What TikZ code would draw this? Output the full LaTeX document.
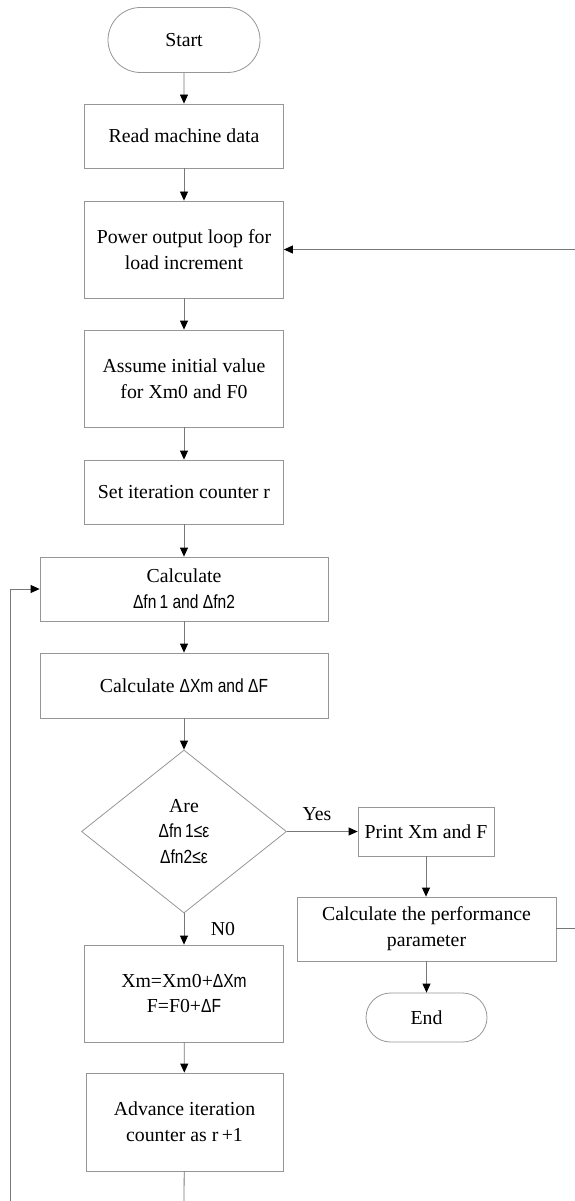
\documentclass[tikz,border=0pt]{standalone}
\usepackage{fontspec}
\setmainfont{Liberation Serif}
\newfontfamily\arf[FakeStretch=0.82]{Liberation Sans}
\newcommand{\sns}[1]{{\arf\fontsize{19}{25.8}\selectfont #1}}
\usetikzlibrary{shapes.geometric,shapes.misc,arrows.meta}
\definecolor{lnc}{RGB}{120,120,120}
\definecolor{bdc}{RGB}{150,150,150}
\begin{document}
\begin{tikzpicture}[x=1pt,y=-1pt,
  every node/.style={font=\fontsize{19.8}{25.8}\selectfont, align=center, inner sep=0pt},
  proc/.style={draw=bdc, line width=0.8pt, rectangle},
  term/.style={draw=bdc, line width=0.8pt, rounded rectangle},
  dec/.style={draw=bdc, line width=0.8pt, diamond},
  conn/.style={draw=lnc, line width=0.8pt},
  arr/.style={conn, -{Triangle[length=9pt,width=8pt,color=black]}},
  lbl/.style={font=\fontsize{19.8}{22}\selectfont}]
\useasboundingbox (0,0) rectangle (575,1201);
\node[term, minimum width=152pt, minimum height=65pt] (start) at (184,40) {Start};
\node[proc, minimum width=199pt, minimum height=64pt] (read) at (184,136) {Read machine data};
\node[proc, minimum width=199pt, minimum height=97pt] (power) at (184,249.5) {Power output loop for\\load increment};
\node[proc, minimum width=199pt, minimum height=97pt] (assume) at (184,378.5) {Assume initial value\\for Xm0 and F0};
\node[proc, minimum width=199pt, minimum height=64pt] (set) at (184,492) {Set iteration counter r};
\node[proc, minimum width=288pt, minimum height=64pt] (cfn) at (184,589) {Calculate\\\sns{Δfn\,1 and Δfn2}};
\node[proc, minimum width=288pt, minimum height=65pt] (cxm) at (184,685.5) {Calculate \sns{ΔXm and ΔF}};
\node[dec, minimum width=205pt, minimum height=163pt] (are) at (184,831.5) {Are\\\sns{Δfn\,1≤ε}\\\sns{Δfn2≤ε}};
\node[proc, minimum width=136pt, minimum height=49pt] (print) at (426,831.5) {Print Xm and F};
\node[proc, minimum width=259pt, minimum height=64pt] (perf) at (426.5,929) {Calculate the performance\\parameter};
\node[term, minimum width=121pt, minimum height=49pt] (end) at (426.5,1017.5) {End};
\node[proc, minimum width=199pt, minimum height=97pt] (upd) at (184,993.5) {Xm=Xm0+\sns{ΔXm}\\F=F0+\sns{ΔF}};
\node[proc, minimum width=197pt, minimum height=98pt] (adv) at (184.5,1122) {Advance iteration\\counter as r\,+1};
\node[lbl] (yes) at (317,814) {Yes};
\node[lbl] (no) at (223,929) {N0};
\coordinate (rin) at (575,249.5);
\coordinate (rout) at (575,928);
\coordinate (bot) at (184,1201);
\coordinate (lbot) at (10,1201);
\coordinate (lcorner) at (10,589);
\draw[arr] (start) -- (read);
\draw[arr] (read) -- (power);
\draw[arr] (power) -- (assume);
\draw[arr] (assume) -- (set);
\draw[arr] (set) -- (cfn);
\draw[arr] (cfn) -- (cxm);
\draw[arr] (cxm) -- (are);
\draw[arr] (are) -- (print);
\draw[arr] (print) -- (perf.north -| print);
\draw[arr] (perf.south -| end) -- (end);
\draw[arr] (are) -- (upd);
\draw[arr] (upd) -- (adv);
\draw[conn] (adv) -- (bot);
\draw[arr] (rin) -- (power);
\draw[conn] (perf.east |- rout) -- (rout);
\draw[arr] (lbot) -- (lcorner) -- (cfn);
\end{tikzpicture}
\end{document}
